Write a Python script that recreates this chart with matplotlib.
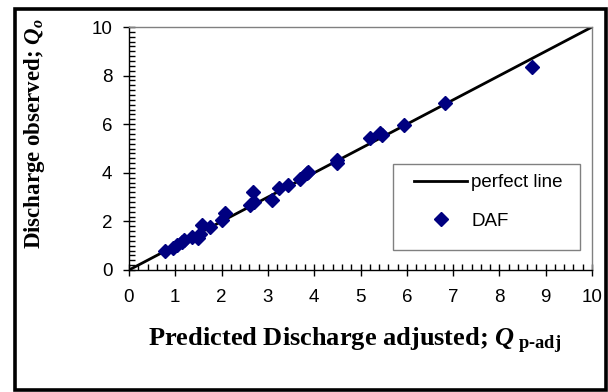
import matplotlib.pyplot as plt
from matplotlib.patches import Rectangle
from matplotlib.ticker import MultipleLocator

# predicted (adjusted) vs observed discharge
q_pred = [0.78, 0.96, 1.03, 1.14, 1.19, 1.35, 1.50, 1.53, 1.57, 1.76,
          2.00, 2.07, 2.61, 2.67, 2.69, 3.08, 3.23, 3.44, 3.69, 3.84,
          3.87, 4.49, 4.50, 5.21, 5.42, 5.46, 5.94, 6.83, 8.70]
q_obs = [0.79, 0.92, 1.03, 1.17, 1.23, 1.37, 1.30, 1.50, 1.85, 1.78,
         2.06, 2.33, 2.67, 3.20, 2.81, 2.88, 3.36, 3.50, 3.73, 3.98,
         4.05, 4.39, 4.52, 5.42, 5.62, 5.56, 5.97, 6.86, 8.37]
perfect = [0, 10]

plt.rcParams['font.family'] = 'Liberation Sans'
plt.rcParams['mathtext.fontset'] = 'custom'
plt.rcParams['mathtext.rm'] = 'Liberation Serif:bold'
plt.rcParams['mathtext.it'] = 'Liberation Serif:bold:italic'
plt.rcParams['mathtext.bf'] = 'Liberation Serif:bold'

fig = plt.figure(figsize=(6.08, 3.92), dpi=100)
ax = fig.add_axes([129/608, 1-270/392, 463/608, 243/392])

ax.plot(perfect, perfect, color='black', lw=2, label='perfect line', zorder=2)
ax.plot(q_pred, q_obs, 'D', color='#000080', markersize=7.5, linestyle='none',
        label='DAF', zorder=3)

ax.set_xlim(0, 10)
ax.set_ylim(0, 10)
ax.xaxis.set_major_locator(MultipleLocator(1))
ax.xaxis.set_minor_locator(MultipleLocator(0.2))
ax.yaxis.set_major_locator(MultipleLocator(2))
ax.yaxis.set_minor_locator(MultipleLocator(0.2))
ax.tick_params(which='major', direction='inout', length=8, width=1,
               labelsize=13.5, pad=8)
ax.tick_params(axis='x', which='major', pad=10)
ax.tick_params(which='minor', direction='in', length=4, width=1)

for s in ['left', 'bottom']:
    ax.spines[s].set_color('black')
    ax.spines[s].set_linewidth(1)
for s in ['top', 'right']:
    ax.spines[s].set_color('#808080')
    ax.spines[s].set_linewidth(1)

# legend box drawn separately so its padding can be set freely
ax.add_patch(Rectangle((0.570, 0.082), 0.404, 0.354, transform=ax.transAxes,
                       facecolor='white', edgecolor='#808080', lw=1,
                       zorder=4))
leg = ax.legend(loc='upper left', bbox_to_anchor=(0.6156, 0.395),
                fontsize=13.5, frameon=False, borderpad=0, borderaxespad=0,
                labelspacing=1.15, handlelength=2.85, handletextpad=0.2)
leg.set_zorder(5)

fig.text(355/608, 1-346/392,
         r'Predicted Discharge adjusted; $Q_{\ \mathrm{p‐adj}}$',
         family='Liberation Serif', weight='bold', fontsize=19,
         ha='center', va='baseline')
fig.text(40/608, 1-134/392, r'Discharge observed; $Q_o$',
         family='Liberation Serif', weight='bold', fontsize=16.5,
         rotation=90, rotation_mode='anchor', ha='center', va='baseline')

# outer frame
fig.patches.append(Rectangle((14.5/608, 2/392), 591.5/608, 381.5/392,
                             transform=fig.transFigure, fill=False,
                             edgecolor='black', linewidth=2.6))

fig.savefig('out.png', dpi=100)
